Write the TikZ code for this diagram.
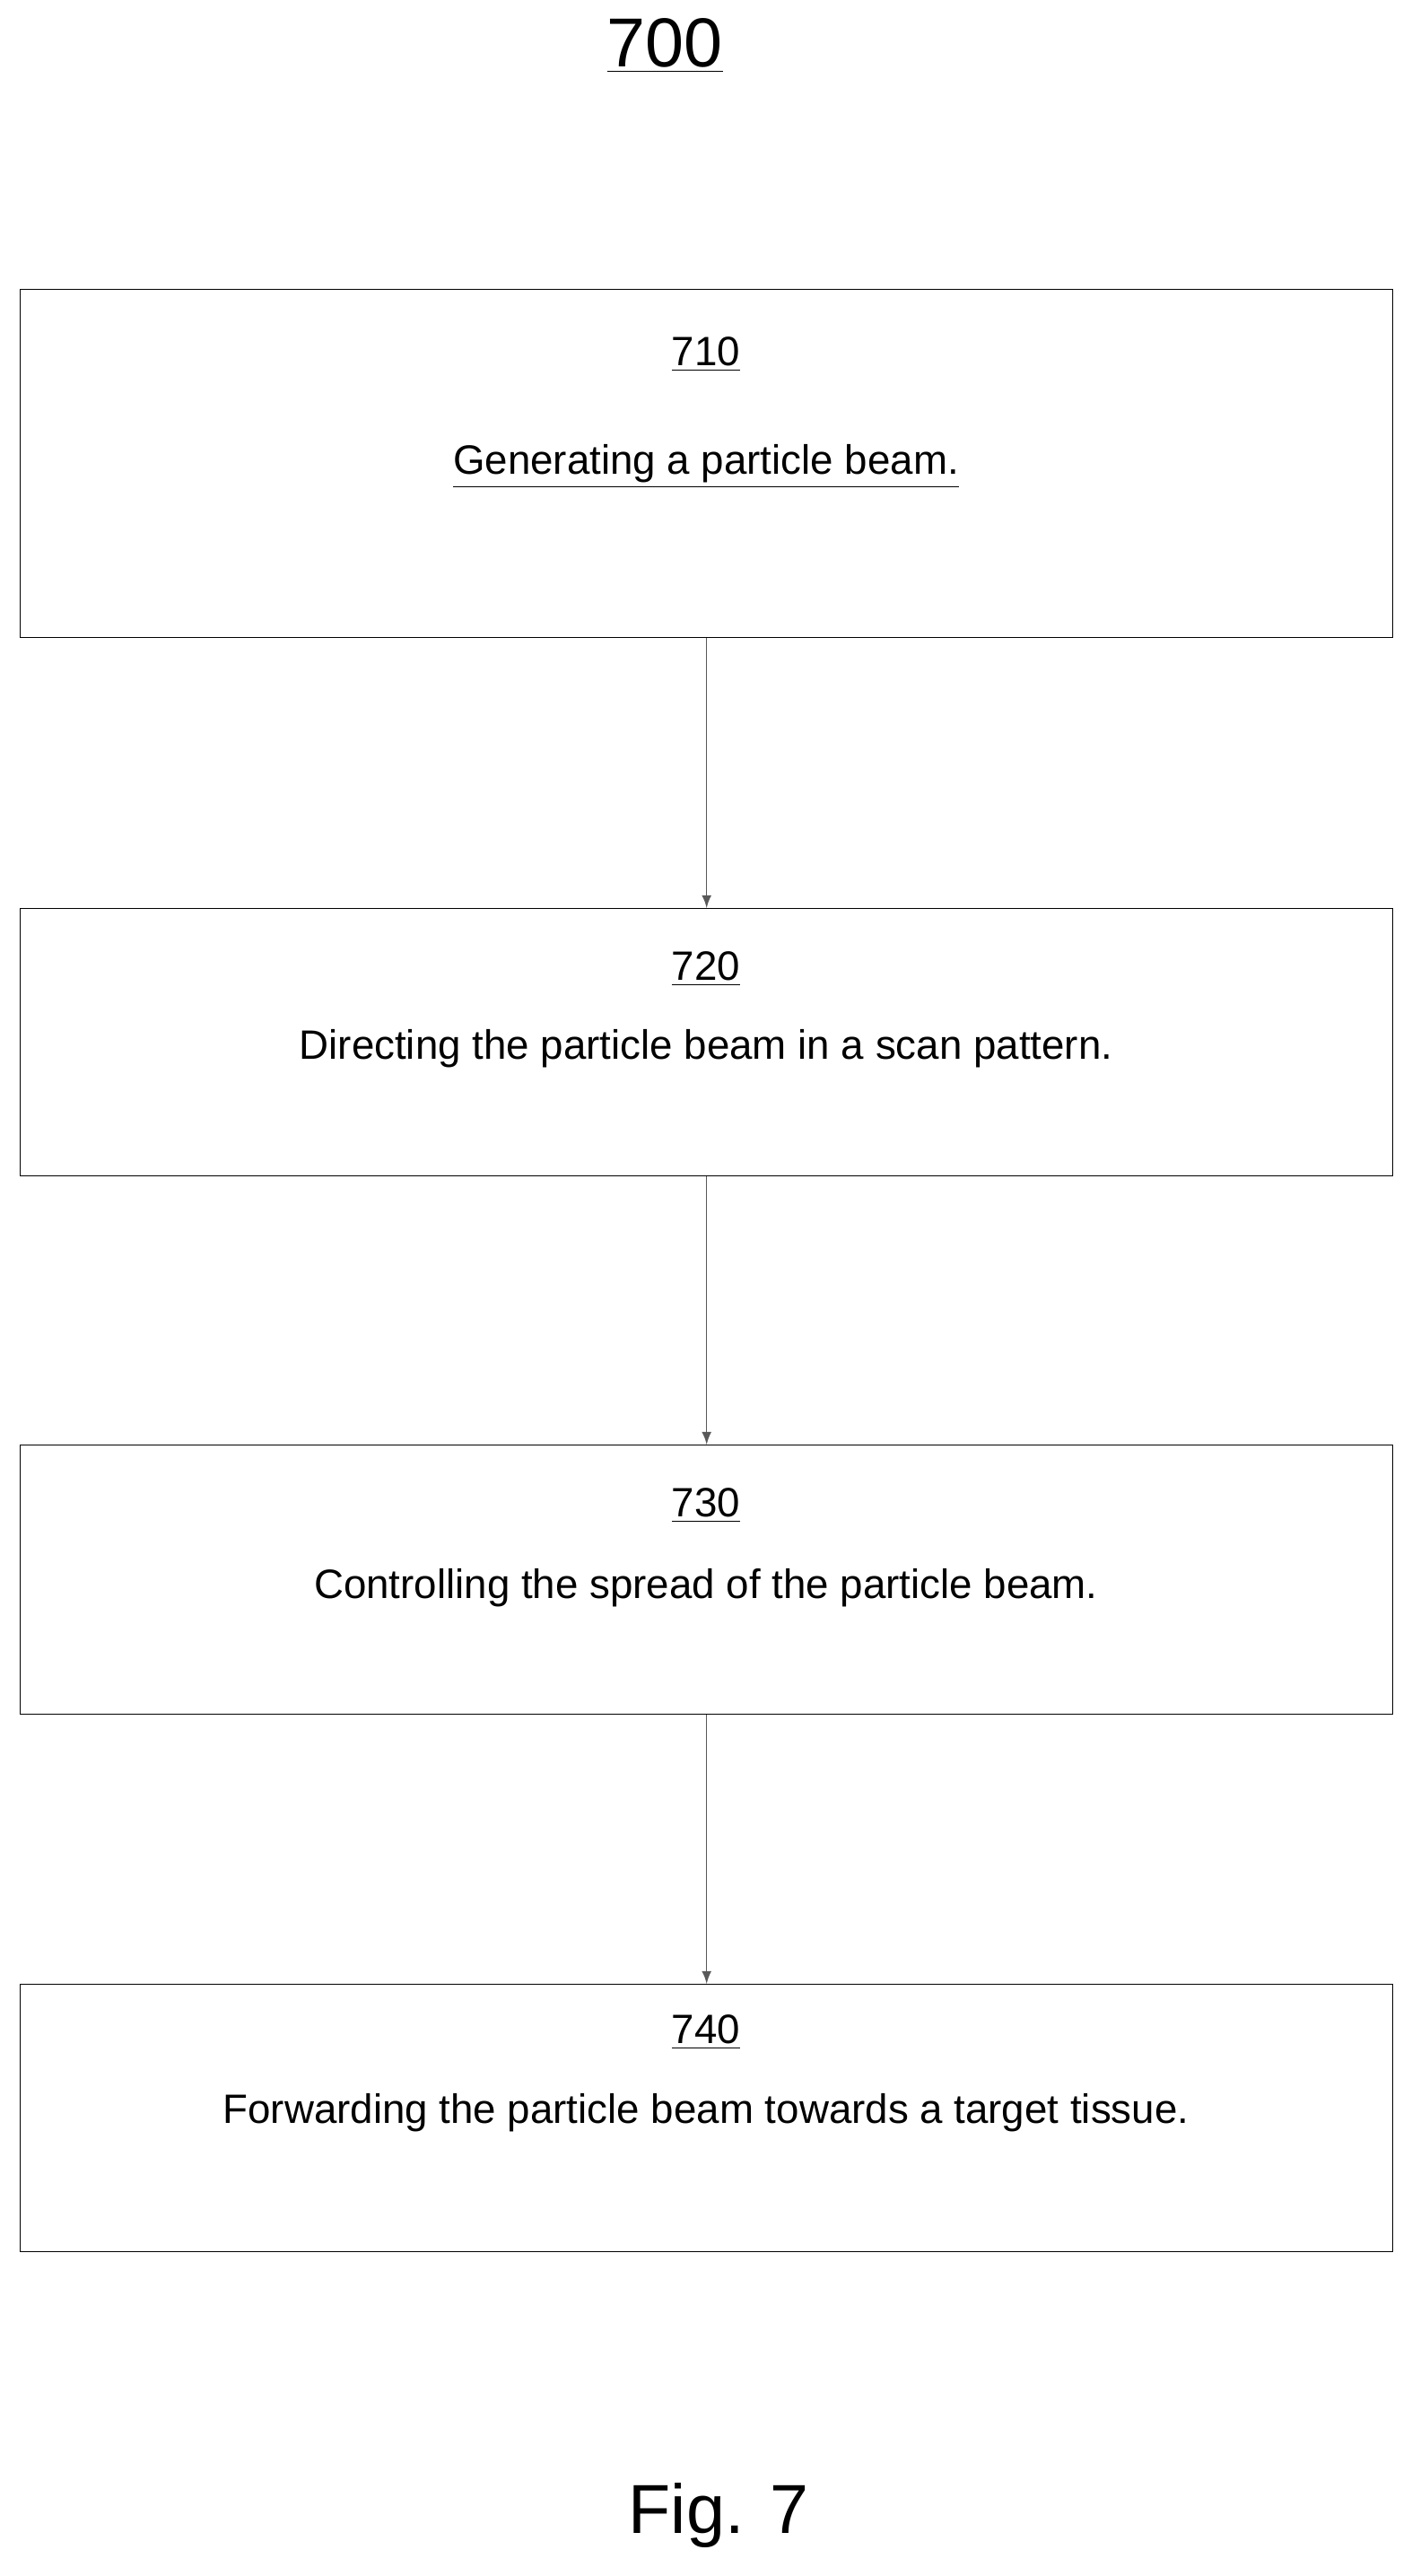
\documentclass[tikz,border=0pt]{standalone}
\usepackage{fontspec}
\setmainfont{Liberation Sans}
\usetikzlibrary{positioning}
\begin{document}
\begin{tikzpicture}[
	stepbox/.style = {draw, thin, minimum width = 15.3 cm, anchor = north west},
	num/.style = {font = \fontsize{13}{15}\selectfont},
	flow/.style = {thin, gray!70!black, -latex}]
	\useasboundingbox (0, 0) rectangle (15.74, -28.71);
	
	\node[font = \fontsize{22}{26}\selectfont] (title) at (7.41, -0.51) {\underline{700}};
	
	\node[stepbox, minimum height = 3.88 cm] (s710) at (0.22, -3.22) {};
	\node[stepbox, minimum height = 2.98 cm] (s720) at (0.22, -10.12) {};
	\node[stepbox, minimum height = 3.00 cm] (s730) at (0.22, -16.10) {};
	\node[stepbox, minimum height = 2.98 cm] (s740) at (0.22, -22.11) {};
	
	\node[num] (n710) at (7.87, -3.95) {\underline{710}};
	\node[num] (t710) at (7.87, -5.20) {\underline{Generating a particle beam.}};
	\node[num] (n720) at (7.87, -10.80) {\underline{720}};
	\node[num] (t720) at (7.87, -11.69) {Directing the particle beam in a scan pattern.};
	\node[num] (n730) at (7.87, -16.78) {\underline{730}};
	\node[num] (t730) at (7.87, -17.70) {Controlling the spread of the particle beam.};
	\node[num] (n740) at (7.87, -22.65) {\underline{740}};
	\node[num] (t740) at (7.87, -23.55) {Forwarding the particle beam towards a target tissue.};
	
	\draw[flow] (s710.south) -- (s720.north);
	\draw[flow] (s720.south) -- (s730.north);
	\draw[flow] (s730.south) -- (s740.north);
	
	\node[font = \fontsize{22}{26}\selectfont] (fig) at (8.01, -28.03) {Fig. 7};
\end{tikzpicture}
\end{document}
